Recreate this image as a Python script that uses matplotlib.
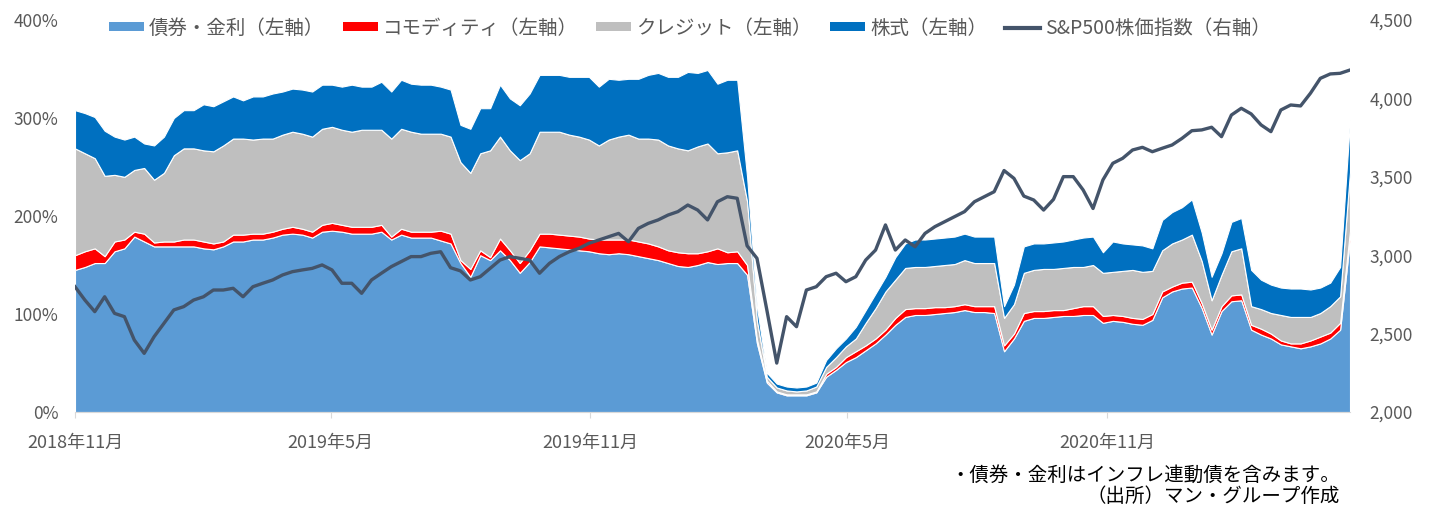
"""
    Stacked exposure by asset class vs S&P500 (Man Group style chart)
"""
import numpy as np
import pandas as pd
import matplotlib
matplotlib.use('Agg')
import matplotlib.pyplot as plt
from matplotlib.patches import Patch
from matplotlib.lines import Line2D
from matplotlib.ticker import FuncFormatter

plt.rcParams['font.family'] = ['Noto Sans CJK JP', 'DejaVu Sans']

"""
    Data (weekly, read off the chart)
"""
dates = pd.date_range('2018-11-01', periods=130, freq='7D')

bond = [145, 148, 152, 152, 164, 167, 179, 174, 169, 169,
        169, 169, 169, 167, 166, 169, 174, 174, 176, 176,
        178, 181, 182, 181, 178, 184, 185, 184, 182, 182,
        182, 184, 176, 181, 178, 178, 178, 175, 172, 152,
        138, 160, 155, 165, 155, 142, 153, 169, 168, 167,
        166, 165, 164, 162, 161, 162, 161, 159, 157, 155,
        152, 149, 148, 150, 153, 151, 152, 152, 140, 70,
        30, 20, 17, 17, 17, 20, 36, 43, 51, 56,
        63, 70, 79, 89, 97, 99, 99, 100, 101, 102,
        104, 102, 102, 101, 62, 75, 93, 96, 96, 97,
        98, 98, 99, 99, 91, 93, 92, 90, 89, 94,
        117, 123, 126, 127, 106, 79, 103, 113, 114, 84,
        79, 75, 69, 67, 65, 67, 70, 75, 84, 177]

commodity = [15, 16, 15, 7, 10, 9, 5, 8, 4, 5,
             5, 7, 7, 7, 6, 5, 7, 7, 6, 6,
             6, 6, 7, 6, 6, 7, 8, 7, 7, 7,
             7, 7, 3, 6, 6, 6, 6, 10, 10, 3,
             8, 5, 3, 12, 10, 10, 12, 13, 14, 14,
             14, 14, 13, 14, 15, 14, 15, 15, 15, 14,
             13, 14, 14, 12, 11, 16, 11, 12, 10, 4,
             2, 1, 1, 1, 1, 1, 3, 3, 5, 6,
             5, 5, 5, 7, 8, 7, 7, 7, 6, 6,
             6, 6, 6, 7, 6, 5, 8, 7, 7, 7,
             6, 8, 9, 9, 7, 6, 6, 6, 6, 6,
             6, 5, 6, 6, 5, 5, 5, 6, 6, 5,
             6, 5, 4, 3, 5, 6, 7, 6, 7, 8]

credit = [109, 100, 92, 82, 68, 64, 63, 67, 64, 70,
          88, 93, 93, 93, 94, 98, 98, 98, 96, 97,
          95, 96, 97, 97, 97, 98, 98, 97, 97, 99,
          99, 97, 100, 102, 102, 100, 100, 99, 99, 100,
          98, 99, 109, 104, 102, 105, 99, 104, 104, 105,
          103, 102, 101, 96, 102, 105, 107, 105, 107, 109,
          107, 106, 105, 109, 110, 97, 102, 103, 65, 19,
          4, 4, 4, 3, 4, 5, 7, 10, 11, 13,
          23, 31, 39, 39, 42, 42, 42, 42, 43, 43,
          45, 44, 44, 44, 28, 30, 41, 42, 43, 42,
          43, 42, 40, 42, 44, 44, 46, 49, 48, 44,
          42, 44, 44, 48, 43, 30, 32, 45, 47, 19,
          20, 21, 26, 27, 27, 24, 24, 27, 27, 60]

equity = [39, 41, 42, 46, 39, 38, 34, 25, 35, 37,
          38, 39, 39, 47, 46, 45, 43, 39, 44, 43,
          46, 44, 44, 45, 46, 45, 43, 44, 48, 44,
          44, 49, 48, 50, 49, 50, 50, 48, 48, 38,
          45, 46, 43, 53, 53, 56, 61, 58, 58, 58,
          59, 61, 64, 60, 62, 58, 57, 61, 65, 68,
          70, 73, 80, 75, 75, 71, 74, 72, 25, 14,
          4, 4, 4, 4, 4, 4, 7, 9, 8, 12,
          13, 15, 15, 23, 25, 28, 28, 28, 28, 28,
          27, 27, 27, 27, 12, 20, 27, 27, 26, 27,
          27, 28, 30, 29, 21, 31, 28, 26, 27, 23,
          31, 32, 33, 36, 29, 24, 22, 30, 31, 37,
          30, 29, 28, 29, 29, 28, 26, 24, 30, 53]

sp500 = [2799, 2714, 2640, 2735, 2629, 2608, 2459, 2374, 2480, 2566,
         2651, 2672, 2714, 2735, 2778, 2778, 2789, 2735, 2799, 2821,
         2842, 2874, 2895, 2906, 2916, 2938, 2906, 2821, 2821, 2757,
         2842, 2885, 2927, 2959, 2991, 2991, 3012, 3022, 2920, 2900,
         2842, 2863, 2916, 2969, 2991, 2980, 2969, 2885, 2948, 2991,
         3022, 3044, 3076, 3097, 3118, 3139, 3086, 3171, 3203, 3225,
         3256, 3278, 3320, 3288, 3225, 3341, 3373, 3363, 3060, 2980,
         2650, 2312, 2608, 2544, 2778, 2799, 2863, 2885, 2831, 2863,
         2969, 3033, 3193, 3033, 3097, 3054, 3139, 3182, 3214, 3246,
         3278, 3341, 3373, 3405, 3540, 3490, 3377, 3352, 3288, 3356,
         3501, 3501, 3416, 3298, 3480, 3586, 3618, 3671, 3688, 3660,
         3682, 3703, 3745, 3794, 3799, 3816, 3756, 3894, 3937, 3901,
         3831, 3788, 3926, 3958, 3952, 4033, 4128, 4156, 4160, 4181]

labels = ['債券・金利（左軸）', 'コモディティ（左軸）', 'クレジット（左軸）',
          '株式（左軸）', 'S&P500株価指数（右軸）']
tick_dates = ['2018-11-01', '2019-05-01', '2019-11-01', '2020-05-01', '2020-11-01']
tick_labels = ['2018年11月', '2019年5月', '2019年11月', '2020年5月', '2020年11月']

colors = ['#5B9BD5', '#FF0000', '#BFBFBF', '#0070C0']
linecol = '#44546A'
txtcol = '#595959'
fs = 12.5

"""
    Make plot
"""
fig = plt.figure(figsize=[14.32, 5.09], dpi=100)
ax = fig.add_axes([75/1432, 1-412/509, 1275/1432, 392/509])

ax.stackplot(dates, bond, commodity, credit, equity, colors=colors,
             edgecolor='white', linewidth=0.8)
ax.set_xlim(dates[0], dates[-1])
ax.set_ylim(0, 400)
ax.set_yticks(np.arange(0, 401, 100))
ax.yaxis.set_major_formatter(FuncFormatter(lambda v, p: '%d%%' % v))
ax.set_xticks(pd.to_datetime(tick_dates))
ax.set_xticklabels(tick_labels)
ax.tick_params(axis='y', length=0, pad=12, labelsize=fs, labelcolor=txtcol)
ax.tick_params(axis='x', length=4, color='#D9D9D9', pad=12, labelsize=13,
               labelcolor=txtcol)
for s in ['top', 'left', 'right']:
    ax.spines[s].set_visible(False)
ax.spines['bottom'].set_color('#D9D9D9')

ax2 = ax.twinx()
ax2.plot(dates, sp500, color=linecol, lw=2.4)
ax2.set_ylim(2000, 4500)
ax2.set_yticks(np.arange(2000, 4501, 500))
ax2.yaxis.set_major_formatter(FuncFormatter(lambda v, p: '{:,.0f}'.format(v)))
ax2.tick_params(axis='y', length=0, pad=14, labelsize=fs, labelcolor=txtcol)
for s in ax2.spines.values():
    s.set_visible(False)

handles = [Patch(facecolor=c, edgecolor='none') for c in colors]
handles.append(Line2D([0], [0], color=linecol, lw=3))
fig.legend(handles, labels, loc='center', bbox_to_anchor=(0.482, 0.945),
           ncol=5, frameon=False, fontsize=14, labelcolor=txtcol,
           handlelength=1.8, handleheight=0.4, handletextpad=0.25,
           columnspacing=0.95)

fig.text(0.936, 0.067, '・債券・金利はインフレ連動債を含みます。',
         ha='right', va='center', fontsize=14)
fig.text(0.936, 0.024, '（出所）マン・グループ作成',
         ha='right', va='center', fontsize=14)

plt.savefig('out.png', dpi=100)
